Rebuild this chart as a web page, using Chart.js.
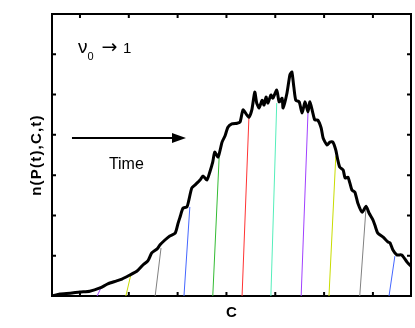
<!DOCTYPE html>
<html>
<head>
<meta charset="utf-8">
<script src="https://cdn.jsdelivr.net/npm/chart.js@4.4.1/dist/chart.umd.min.js"></script>
<style>
  html, body { margin: 0; padding: 0; background: #fff; }
  #wrap { width: 415px; height: 328px; }
</style>
</head>
<body>
<div id="wrap"><canvas id="chart" width="415" height="328"></canvas></div>
<script>
// distribution at the last time (thick black curve)
const curveC = [0.43, 0.59, 0.80, 1.00, 1.20, 1.41, 1.57, 1.74, 1.86, 2.02, 2.17, 2.29, 2.39, 2.47, 2.58,
  2.64, 2.74, 2.84, 2.95, 3.01, 3.05, 3.11, 3.19, 3.23, 3.29, 3.36, 3.46, 3.52, 3.60, 3.66,
  3.72, 3.76, 3.83, 3.91, 3.97, 4.03, 4.11, 4.22, 4.28, 4.34, 4.42, 4.46, 4.52, 4.58, 4.62,
  4.67, 4.73, 4.77, 4.81, 4.85, 4.91, 4.95, 5.03, 5.08, 5.14, 5.16, 5.24, 5.30, 5.34, 5.38,
  5.42, 5.49, 5.55, 5.61, 5.67, 5.71, 5.77, 5.81, 5.87, 5.94, 5.98, 6.06, 6.12, 6.18, 6.24,
  6.28, 6.32, 6.39, 6.43, 6.49, 6.57, 6.63, 6.69, 6.78, 6.86, 6.92, 7.00, 7.04, 7.10, 7.21,
  7.31, 7.35, 7.41, 7.49, 7.59, 7.70, 7.78];
const curveN = [0.00, 0.05, 0.07, 0.10, 0.12, 0.20, 0.30, 0.37, 0.42, 0.52, 0.62, 0.77, 0.87, 1.07, 1.17,
  1.27, 1.39, 1.49, 1.56, 1.81, 1.96, 2.18, 2.21, 2.38, 2.68, 2.76, 2.88, 2.98, 2.88, 3.08,
  3.33, 3.57, 3.45, 3.82, 3.97, 4.19, 4.27, 4.29, 4.32, 4.62, 4.49, 4.44, 4.62, 5.06, 4.79,
  4.67, 4.86, 4.74, 4.94, 4.79, 4.99, 4.91, 5.11, 4.82, 4.91, 4.67, 5.04, 5.49, 5.56, 5.19,
  4.86, 4.82, 4.54, 4.82, 4.57, 4.82, 4.54, 4.37, 4.37, 4.17, 3.92, 3.75, 3.82, 3.82, 3.62,
  3.38, 3.20, 3.13, 2.93, 2.95, 2.63, 2.58, 2.31, 2.08, 2.23, 2.06, 1.89, 1.76, 1.56, 1.46,
  1.34, 1.32, 1.14, 1.02, 1.02, 0.84, 0.74];

// thin coloured fronts at earlier times
const snapColors = ['#a040ff', '#c8dc00', '#808080', '#4466ff', '#33bb33', '#ff3333',
  '#55eebb', '#a040ff', '#c8dc00', '#808080', '#4466ff'];
const snapC0 = [1.35, 1.94, 2.54, 3.13, 3.72, 4.32, 4.91, 5.53, 6.10, 6.73, 7.33];
const snapC1 = [1.43, 2.04, 2.66, 3.25, 3.85, 4.46, 5.03, 5.67, 6.24, 6.86, 7.45];
const snapN = [0.20, 0.52, 1.19, 2.21, 3.43, 4.42, 4.79, 4.54, 3.47, 2.21, 0.99];

const xTicks = [1, 2, 3, 4, 5, 6, 7];
const yTicks = [0, 1, 2, 3, 4, 5, 6, 7];
const cMin = 0.427, cMax = 7.78;
const nMin = 0, nMax = 7;

const FONT = '"Liberation Sans", Arial, Helvetica, sans-serif';

function fixTicks(list) {
  return s => { s.ticks = list.map(v => ({ value: v })); };
}
const axisBase = {
  ticks: { display: false },
  grid: { display: false },
  border: { display: true, color: '#000', width: 2 }
};

// inward ticks on all four sides, plus the axis labels and annotations
const decorations = {
  id: 'decorations',
  afterDraw(chart) {
    const { ctx, chartArea: a, scales: { x, y } } = chart;
    ctx.save();
    ctx.strokeStyle = '#000';
    ctx.lineWidth = 2;
    ctx.beginPath();
    x.ticks.forEach(t => {
      const p = x.getPixelForValue(t.value);
      ctx.moveTo(p, a.bottom); ctx.lineTo(p, a.bottom - 4);
      ctx.moveTo(p, a.top); ctx.lineTo(p, a.top + 4);
    });
    y.ticks.forEach(t => {
      const p = y.getPixelForValue(t.value);
      ctx.moveTo(a.left, p); ctx.lineTo(a.left + 4, p);
      ctx.moveTo(a.right, p); ctx.lineTo(a.right - 4, p);
    });
    ctx.stroke();

    ctx.fillStyle = '#000';
    // x label
    ctx.font = 'bold 15px ' + FONT;
    ctx.textAlign = 'center';
    ctx.textBaseline = 'alphabetic';
    ctx.fillText('C', (a.left + a.right) / 2, 317);

    // y label
    ctx.save();
    ctx.translate(41, (a.top + a.bottom) / 2);
    ctx.rotate(-Math.PI / 2);
    ctx.letterSpacing = '1.2px';
    ctx.fillText('n(P(t),C,t)', 0, 0);
    ctx.restore();

    // nu_0 -> 1
    ctx.textAlign = 'left';
    let px = x.getPixelForValue(0.96);
    const py = y.getPixelForValue(6.03);
    ctx.font = '19px ' + FONT;
    ctx.fillText('ν', px, py);
    px += ctx.measureText('ν').width;
    ctx.font = '11px ' + FONT;
    ctx.fillText('0', px, py + 7);
    ctx.font = '19px "DejaVu Sans", sans-serif';
    ctx.fillText('→', x.getPixelForValue(1.44), py);
    ctx.font = '15px ' + FONT;
    ctx.fillText('1', x.getPixelForValue(1.88), py);

    // time arrow
    const ay = y.getPixelForValue(3.92);
    const ax0 = x.getPixelForValue(0.836);
    const ax1 = x.getPixelForValue(3.171);
    ctx.lineWidth = 2;
    ctx.beginPath();
    ctx.moveTo(ax0, ay); ctx.lineTo(ax1 - 8, ay);
    ctx.stroke();
    ctx.beginPath();
    ctx.moveTo(ax1, ay);
    ctx.lineTo(ax1 - 14, ay - 5);
    ctx.lineTo(ax1 - 14, ay + 5);
    ctx.closePath();
    ctx.fill();

    ctx.font = '16px ' + FONT;
    ctx.textAlign = 'center';
    ctx.fillText('Time', x.getPixelForValue(1.95), y.getPixelForValue(3.15));
    ctx.restore();
  }
};

const snapshots = snapC0.map((c0, i) => ({
  data: [{ x: c0, y: 0 }, { x: snapC1[i], y: snapN[i] }],
  borderColor: snapColors[i],
  borderWidth: 1,
  pointRadius: 0,
  tension: 0
}));

new Chart(document.getElementById('chart'), {
  type: 'line',
  data: {
    datasets: [{
      data: curveC.map((c, i) => ({ x: c, y: curveN[i] })),
      borderColor: '#000',
      borderWidth: 3,
      borderJoinStyle: 'round',
      pointRadius: 0,
      tension: 0.2
    }, ...snapshots]
  },
  options: {
    responsive: false,
    animation: false,
    devicePixelRatio: 1,
    layout: { padding: 0 },
    plugins: { legend: { display: false }, tooltip: { enabled: false } },
    scales: {
      x: { type: 'linear', position: 'bottom', min: cMin, max: cMax,
        afterBuildTicks: fixTicks(xTicks), afterFit: s => { s.height = 32; }, ...axisBase },
      xTop: { type: 'linear', position: 'top', min: cMin, max: cMax,
        afterFit: s => { s.height = 14; }, ...axisBase },
      y: { type: 'linear', position: 'left', min: nMin, max: nMax,
        afterBuildTicks: fixTicks(yTicks), afterFit: s => { s.width = 52; }, ...axisBase },
      yRight: { type: 'linear', position: 'right', min: nMin, max: nMax,
        afterFit: s => { s.width = 4; }, ...axisBase }
    }
  },
  plugins: [decorations]
});
</script>
</body>
</html>
